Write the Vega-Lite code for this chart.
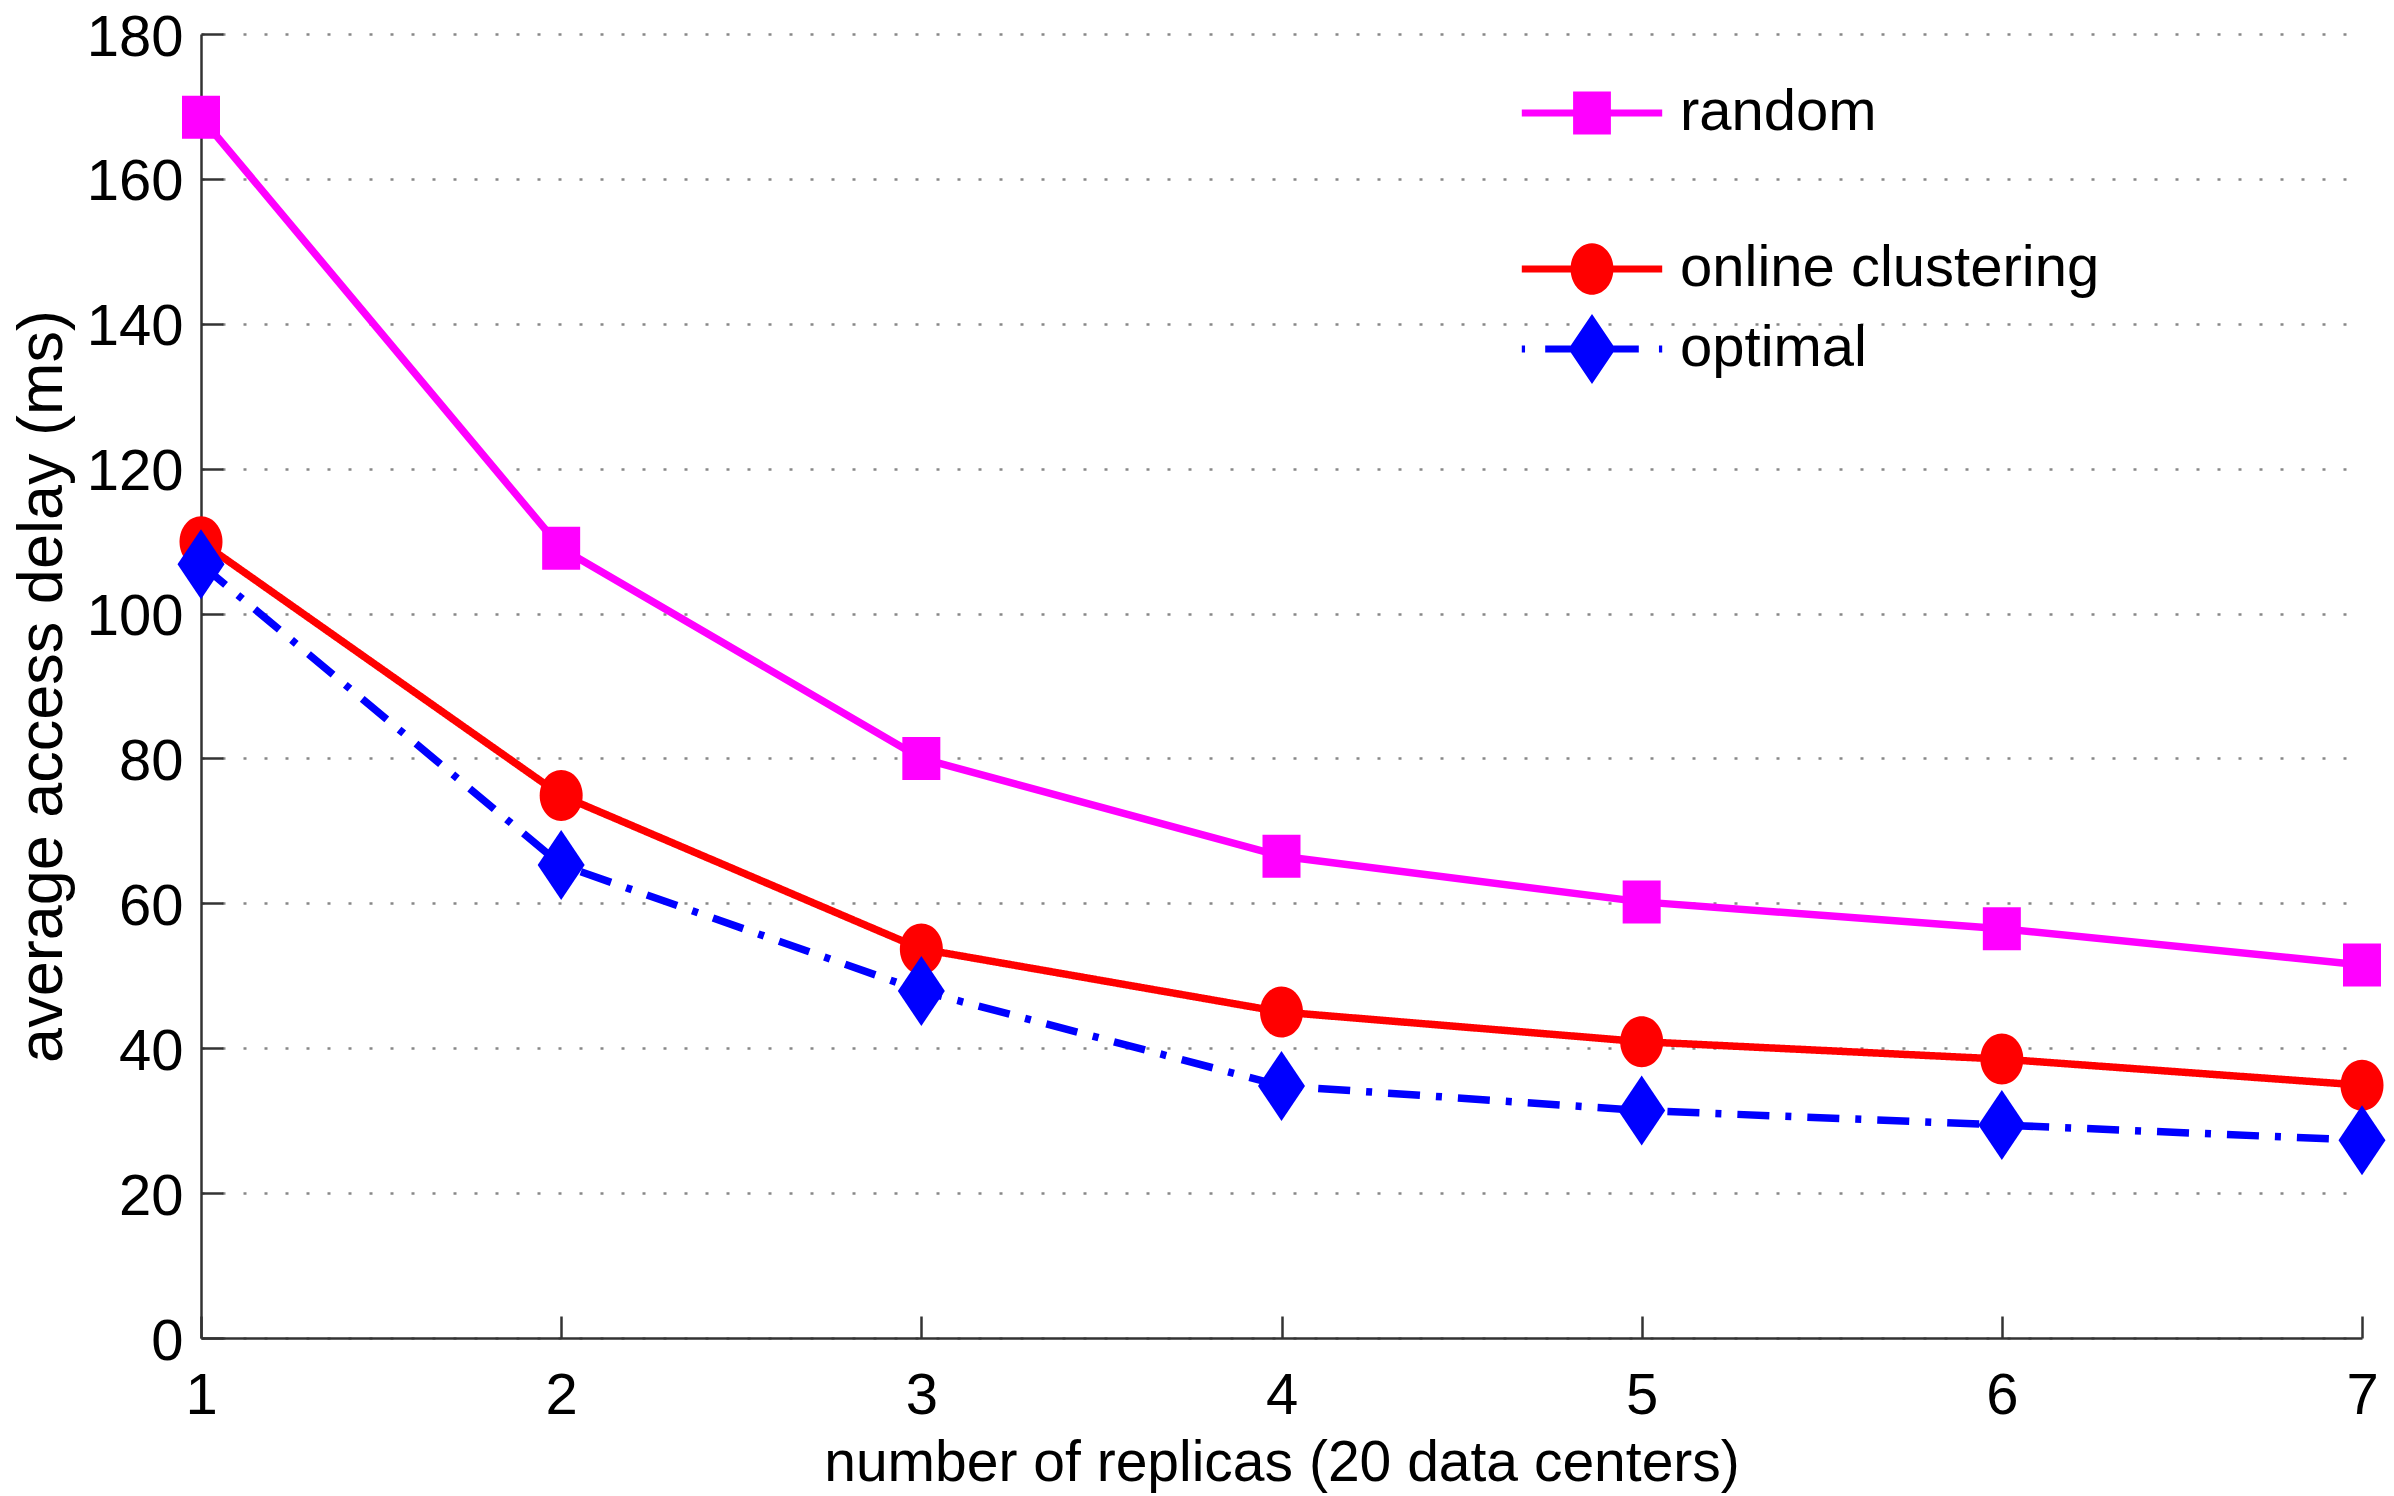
{
  "$schema": "https://vega.github.io/schema/vega-lite/v6.json",
  "width": 2161,
  "height": 1304,
  "autosize": "none",
  "padding": {"left": 201, "top": 34, "right": 32, "bottom": 158},
  "background": "white",
  "config": {
    "view": {"stroke": null},
    "axis": {
      "domainColor": "#333333",
      "domainWidth": 2.5,
      "tickColor": "#333333",
      "tickWidth": 2.5,
      "labelColor": "black",
      "titleColor": "black",
      "titleFontWeight": "normal"
    }
  },
  "data": {
    "values": [
      {"series": "random", "replicas": 1, "delay": 168.5},
      {"series": "random", "replicas": 2, "delay": 109.0},
      {"series": "random", "replicas": 3, "delay": 80.0},
      {"series": "random", "replicas": 4, "delay": 66.5},
      {"series": "random", "replicas": 5, "delay": 60.2},
      {"series": "random", "replicas": 6, "delay": 56.5},
      {"series": "random", "replicas": 7, "delay": 51.5},
      {"series": "online clustering", "replicas": 1, "delay": 109.9},
      {"series": "online clustering", "replicas": 2, "delay": 74.9},
      {"series": "online clustering", "replicas": 3, "delay": 53.7},
      {"series": "online clustering", "replicas": 4, "delay": 45.0},
      {"series": "online clustering", "replicas": 5, "delay": 40.9},
      {"series": "online clustering", "replicas": 6, "delay": 38.5},
      {"series": "online clustering", "replicas": 7, "delay": 34.9},
      {"series": "optimal", "replicas": 1, "delay": 106.8},
      {"series": "optimal", "replicas": 2, "delay": 65.3},
      {"series": "optimal", "replicas": 3, "delay": 47.9},
      {"series": "optimal", "replicas": 4, "delay": 34.8},
      {"series": "optimal", "replicas": 5, "delay": 31.4},
      {"series": "optimal", "replicas": 6, "delay": 29.4},
      {"series": "optimal", "replicas": 7, "delay": 27.3}
    ]
  },
  "encoding": {
    "x": {
      "field": "replicas",
      "type": "quantitative",
      "scale": {"domain": [1, 7], "nice": false, "zero": false},
      "axis": {
        "values": [1, 2, 3, 4, 5, 6, 7],
        "format": "d",
        "grid": false,
        "tickSize": -22,
        "labelFlush": false,
        "labelPadding": 51,
        "labelFont": "Liberation Sans",
        "labelFontSize": 58,
        "title": "number of replicas (20 data centers)",
        "titleFont": "Liberation Sans",
        "titleFontSize": 57,
        "titlePadding": 10
      }
    },
    "y": {
      "field": "delay",
      "type": "quantitative",
      "scale": {"domain": [0, 180], "nice": false},
      "axis": {
        "values": [0, 20, 40, 60, 80, 100, 120, 140, 160, 180],
        "grid": true,
        "gridColor": "#888888",
        "gridDash": [3, 18],
        "gridWidth": 2.5,
        "tickSize": -22,
        "labelFlush": false,
        "labelPadding": 40,
        "labelOffset": 4,
        "labelFont": "Liberation Sans",
        "labelFontSize": 58,
        "title": "average access delay (ms)",
        "titleFont": "Liberation Sans",
        "titleFontSize": 63,
        "titlePadding": 12
      }
    }
  },
  "layer": [
    {
      "transform": [{"filter": "datum.series === 'random'"}],
      "encoding": {
        "color": {
          "field": "series",
          "type": "nominal",
          "scale": {"domain": ["random"], "range": ["#ff00ff"]},
          "legend": {
            "orient": "none",
            "legendX": 1362,
            "legendY": 50,
            "title": null,
            "padding": 0,
            "symbolSize": 1296,
            "labelFont": "Liberation Sans",
            "labelFontSize": 58,
            "labelColor": "black",
            "labelLimit": 0,
            "labelOffset": 59,
            "rowPadding": 16,
            "encode": {
              "symbols": {
                "update": {
                  "shape": {"value": "M-3.9,-0.2L-1.05,-0.2L-1.05,-1.2L1.05,-1.2L1.05,-0.2L3.9,-0.2L3.9,0.2L1.05,0.2L1.05,1.2L-1.05,1.2L-1.05,0.2L-3.9,0.2Z"},
                  "fill": {"value": "#ff00ff"},
                  "stroke": {"value": "transparent"},
                  "strokeWidth": {"value": 0},
                  "opacity": {"value": 1}
                }
              }
            }
          }
        }
      },
      "layer": [
        {"mark": {"type": "line", "strokeWidth": 7.5, "strokeJoin": "round"}},
        {"mark": {"type": "point", "filled": true, "opacity": 1, "size": 2500, "shape": "M-0.76,-0.86L0.76,-0.86L0.76,0.86L-0.76,0.86Z"}}
      ]
    },
    {
      "transform": [{"filter": "datum.series !== 'random'"}],
      "encoding": {
        "color": {
          "field": "series",
          "type": "nominal",
          "scale": {"domain": ["online clustering", "optimal"], "range": ["#ff0000", "#0000ff"]},
          "legend": {
            "orient": "none",
            "legendX": 1362,
            "legendY": 206,
            "title": null,
            "padding": 0,
            "symbolSize": 1296,
            "labelFont": "Liberation Sans",
            "labelFontSize": 58,
            "labelColor": "black",
            "labelLimit": 0,
            "labelOffset": 59,
            "rowPadding": 16,
            "encode": {
              "symbols": {
                "update": {
                  "shape": {"signal": "datum.value === 'optimal' ? 'M-3.9,-0.2L-3.72,-0.2L-3.72,0.2L-3.9,0.2Z M-2.6,-0.2L-1.18,-0.2L0,-1.94L1.18,-0.2L2.6,-0.2L2.6,0.2L1.18,0.2L0,1.94L-1.18,0.2L-2.6,0.2Z M3.72,-0.2L3.9,-0.2L3.9,0.2L3.72,0.2Z' : 'M-3.9,-0.2L-1.18,-0.2A1.19,1.42 0 0 1 1.18,-0.2L3.9,-0.2L3.9,0.2L1.18,0.2A1.19,1.42 0 0 1 -1.18,0.2L-3.9,0.2Z'"},
                  "fill": {"signal": "datum.value === 'optimal' ? '#0000ff' : '#ff0000'"},
                  "stroke": {"value": "transparent"},
                  "strokeWidth": {"value": 0},
                  "opacity": {"value": 1}
                }
              }
            }
          }
        }
      },
      "layer": [
        {
          "mark": {"type": "line", "strokeWidth": 7.5, "strokeJoin": "round"},
          "encoding": {
            "strokeDash": {
              "field": "series",
              "type": "nominal",
              "scale": {"domain": ["online clustering", "optimal"], "range": [[1, 0], [32, 16, 6, 16]]},
              "legend": null
            }
          }
        },
        {
          "transform": [{"filter": "datum.series === 'online clustering'"}],
          "mark": {"type": "point", "filled": true, "opacity": 1, "size": 2500, "shape": "M-0.86,0A0.86,1.02 0 1 1 0.86,0A0.86,1.02 0 1 1 -0.86,0Z"}
        },
        {
          "transform": [{"filter": "datum.series === 'optimal'"}],
          "mark": {"type": "point", "filled": true, "opacity": 1, "size": 2500, "shape": "M0,-1.4L0.94,0L0,1.4L-0.94,0Z"}
        }
      ]
    }
  ],
  "resolve": {"scale": {"color": "independent", "strokeDash": "independent"}}
}
